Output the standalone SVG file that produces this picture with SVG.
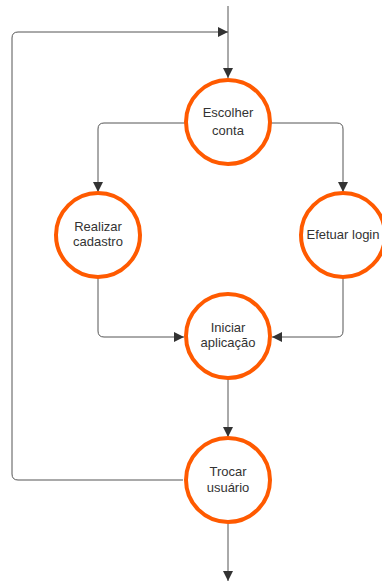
<svg xmlns="http://www.w3.org/2000/svg" width="382" height="585" viewBox="0 0 382 585">
<defs>
<marker id="arr" viewBox="0 0 10 10" refX="10" refY="5" markerWidth="10" markerHeight="10" markerUnits="userSpaceOnUse" orient="auto">
<path d="M0,0 L10,5 L0,10 Z" fill="#333"/>
</marker>
<style>
.node circle{fill:#fff;stroke:#ff5a00;stroke-width:4}
.node text{font-family:"Liberation Sans",Arial,sans-serif;font-size:13px;fill:#333;text-anchor:middle}
.conn path{fill:none;stroke:#555;stroke-width:1;marker-end:url(#arr)}
</style>
</defs>
<rect width="382" height="585" fill="#fff"/>
<g id="connectors" class="conn">
<path d="M228,6 L228,78"/>
<path d="M183,480 L18,480 Q12,480 12,474 L12,38 Q12,32 18,32 L228,32"/>
<path d="M186,123 L104,123 Q98,123 98,129 L98,192"/>
<path d="M270,123 L337,123 Q343,123 343,129 L343,192"/>
<path d="M98,278 L98,331 Q98,337 104,337 L184,337"/>
<path d="M343,278 L343,331 Q343,337 337,337 L272,337"/>
<path d="M228,379 L228,437"/>
<path d="M228,524 L228,581"/>
</g>
<g id="escolher" class="node">
<circle cx="228" cy="122" r="42"/>
<text x="228" y="117">Escolher</text>
<text x="228" y="135">conta</text>
</g>
<g id="realizar" class="node">
<circle cx="98" cy="235" r="42"/>
<text x="98" y="231">Realizar</text>
<text x="98" y="246">cadastro</text>
</g>
<g id="efetuar" class="node">
<circle cx="343" cy="235" r="42"/>
<text x="343" y="239">Efetuar login</text>
</g>
<g id="iniciar" class="node">
<circle cx="228" cy="336" r="42"/>
<text x="228" y="332">Iniciar</text>
<text x="228" y="347">aplicação</text>
</g>
<g id="trocar" class="node">
<circle cx="228" cy="480" r="42"/>
<text x="228" y="476">Trocar</text>
<text x="228" y="492">usuário</text>
</g>
</svg>
